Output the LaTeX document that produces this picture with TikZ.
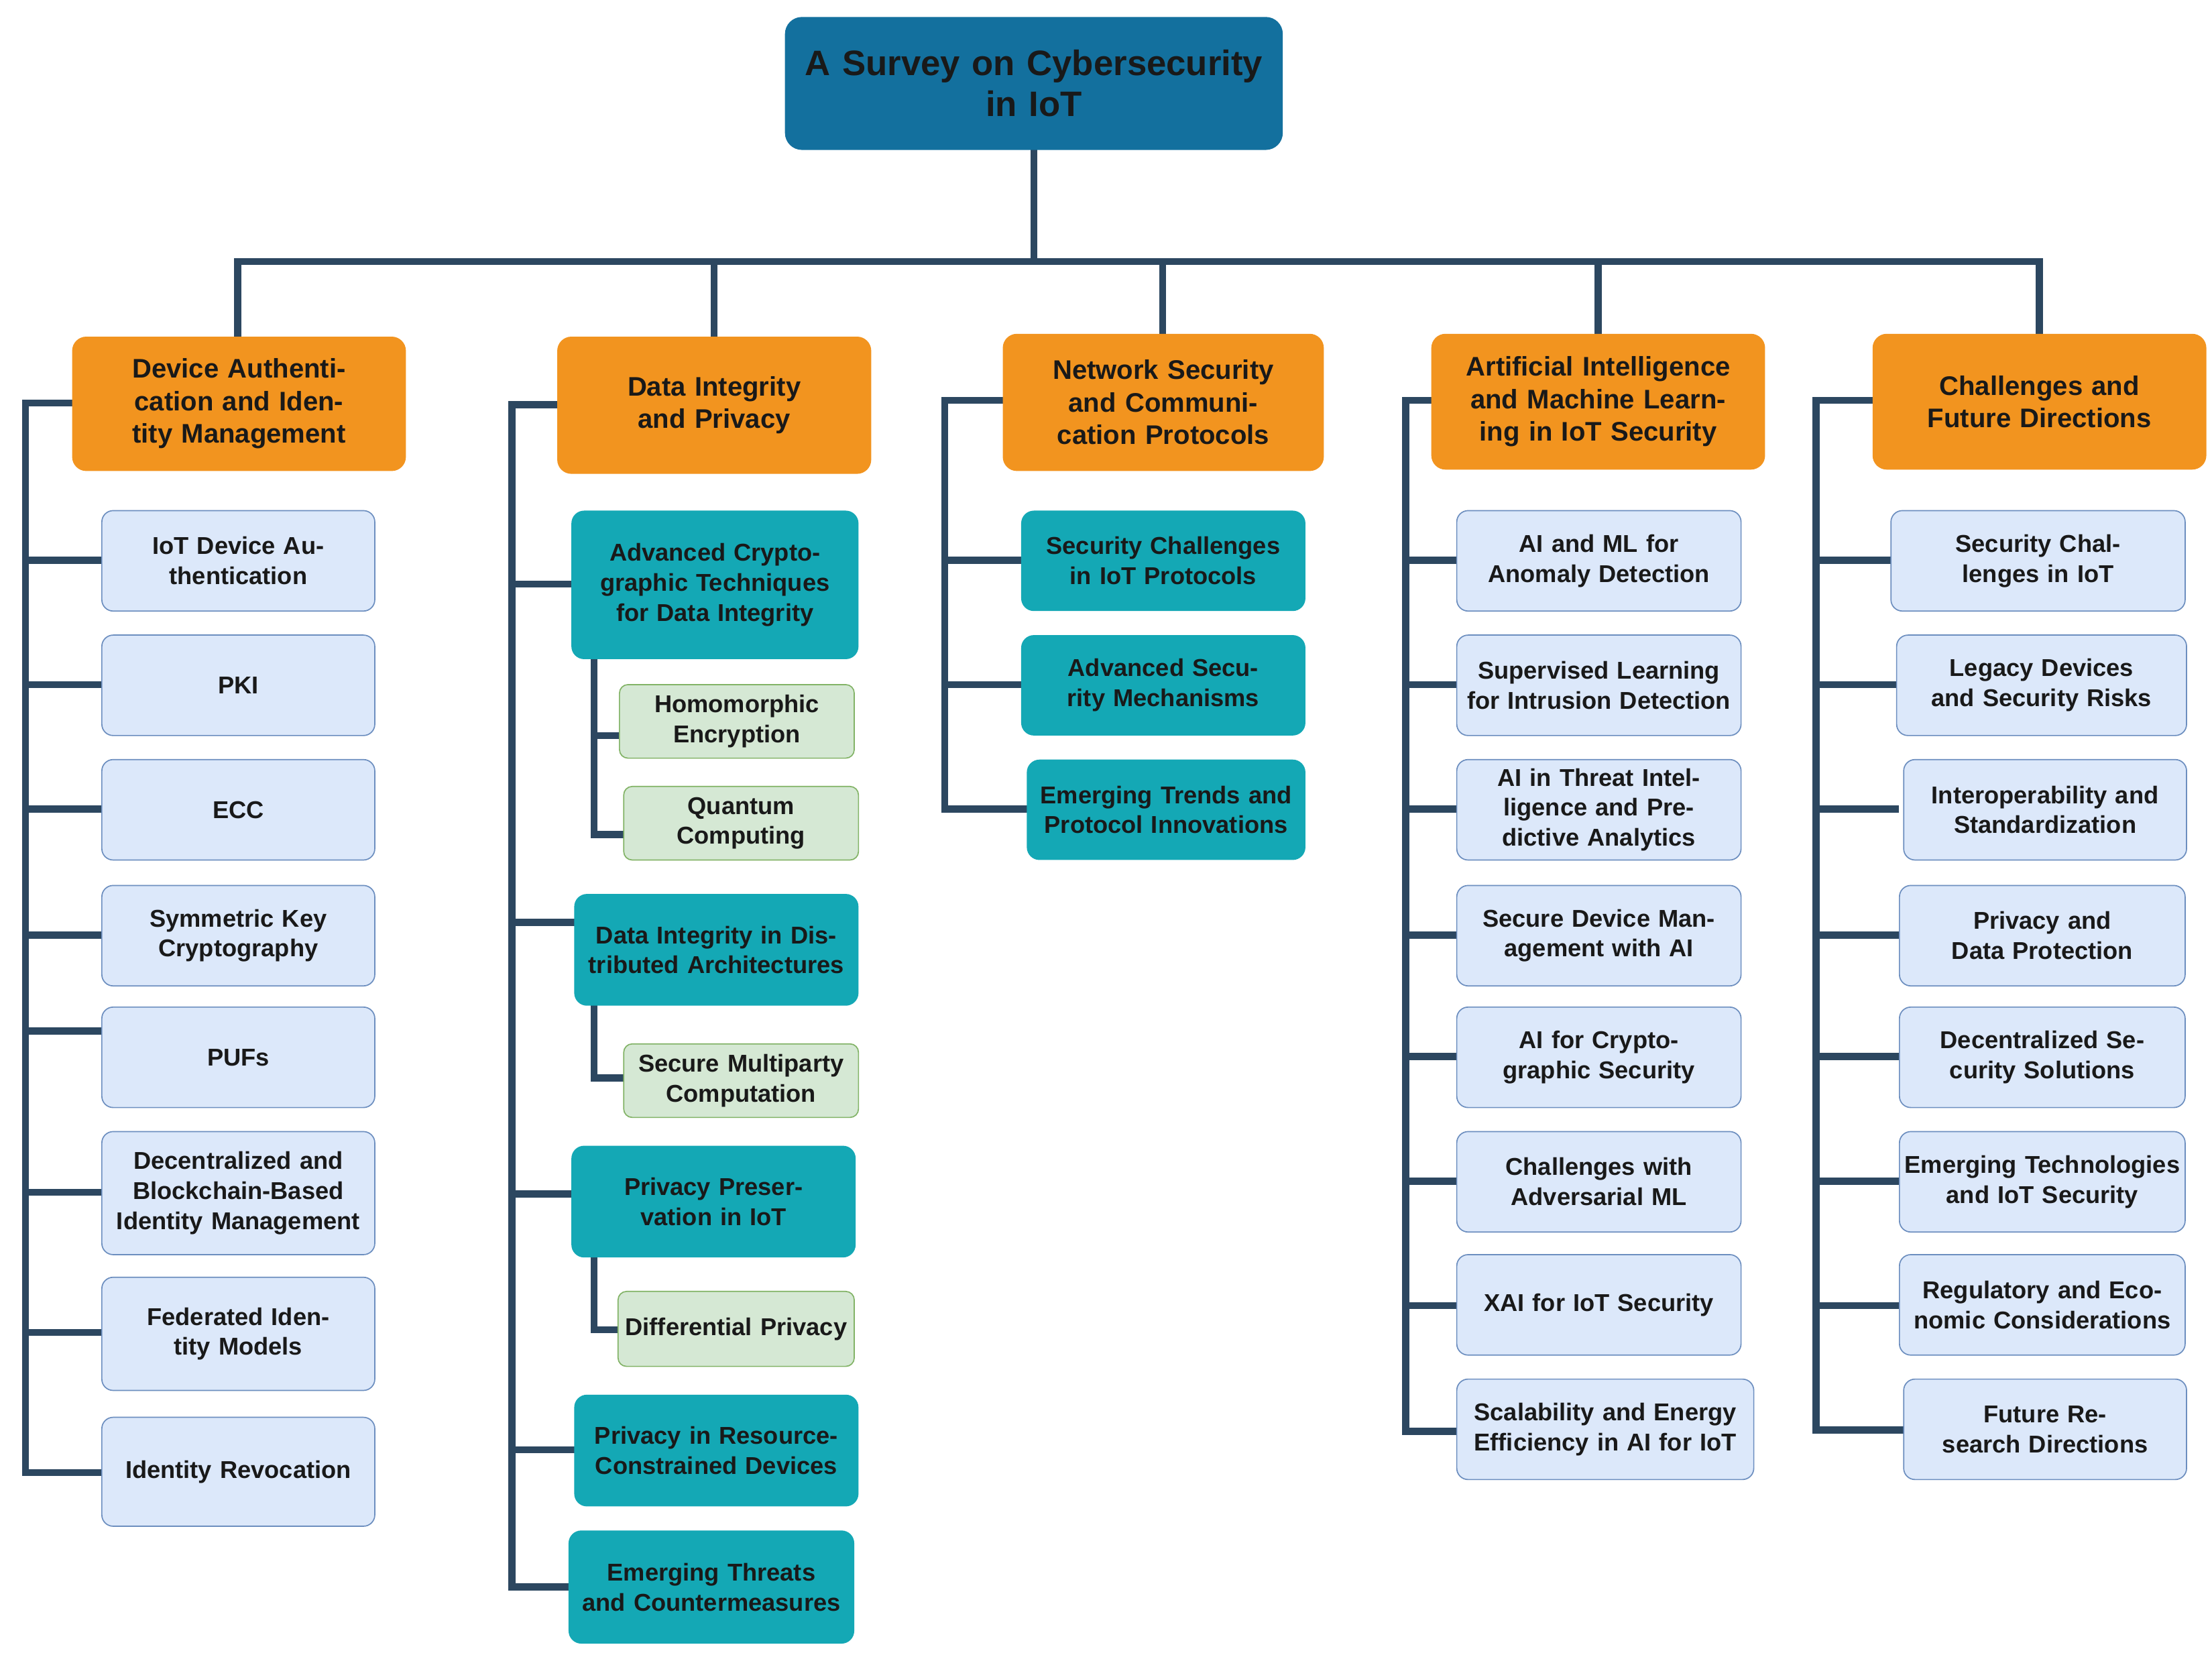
\documentclass[tikz,border=0pt]{standalone}
\usepackage{fontspec}
\setmainfont{Liberation Sans}
\definecolor{ln}{HTML}{2C4760}
\definecolor{rootc}{HTML}{13709E}
\definecolor{catc}{HTML}{F2941F}
\definecolor{tealc}{HTML}{14A8B5}
\definecolor{lbf}{HTML}{DCE8FA}
\definecolor{lbd}{HTML}{6C8EBF}
\definecolor{gf}{HTML}{D5E8D4}
\definecolor{gd}{HTML}{82B366}
\tikzset{
 base/.style={align=center,font=\bfseries,inner sep=1pt,text=black!90},
 root/.style={base,fill=rootc,rounded corners=6pt,font=\bfseries\fontsize{12.5}{14.5}\selectfont},
 cat/.style={base,fill=catc,rounded corners=5pt,font=\bfseries\fontsize{9.5}{11.5}\selectfont},
 teal/.style={base,fill=tealc,rounded corners=4.5pt,font=\bfseries\fontsize{8.6}{10.6}\selectfont},
 leaf/.style={base,fill=lbf,draw=lbd,line width=0.4pt,rounded corners=4pt,font=\bfseries\fontsize{8.6}{10.6}\selectfont},
 grn/.style={base,fill=gf,draw=gd,line width=0.4pt,rounded corners=3pt,font=\bfseries\fontsize{8.6}{10.6}\selectfont},
 conn/.style={draw=ln,line width=2.5pt,line cap=rect}
}
\newcommand{\bx}[7]{\node[#2,minimum width={(#5-#3)*0.5pt},minimum height={(#6-#4)*0.5pt},text width={(#5-#3)*0.5pt-3pt}] (#1) at ({(#3+#5)/2},{(#4+#6)/2}) {#7};}
\begin{document}
\begin{tikzpicture}[x=0.5pt,y=-0.5pt]
\useasboundingbox (0,0) rectangle (1564,1171);
% tree lines first
\coordinate (hb) at (731,185);
\draw[conn] (731,106) -- (hb);
\draw[conn] (168,238) -- (168,185) -- (1442,185) -- (1442,236);
\foreach \x in {505,822,1130} \draw[conn] (\x,185) -- (\x,237);
% column spines
\draw[conn] (51,285) -- (18,285) -- (18,1041) -- (72,1041);
\foreach \y in {396,484,572,661,729,843,942} \draw[conn] (18,\y) -- (72,\y);
\draw[conn] (394,286) -- (362,286) -- (362,1122) -- (402,1122);
\foreach \y in {413,652,844,1025} \draw[conn] (362,\y) -- (405,\y);
\draw[conn] (420,466) -- (420,590) -- (441,590);
\draw[conn] (420,520) -- (438,520);
\draw[conn] (420,711) -- (420,762) -- (441,762);
\draw[conn] (420,889) -- (420,940) -- (437,940);
\draw[conn] (709,283) -- (668,283) -- (668,572) -- (726,572);
\foreach \y in {396,484} \draw[conn] (668,\y) -- (722,\y);
\draw[conn] (1012,283) -- (994,283) -- (994,1012) -- (1030,1012);
\foreach \y in {396,484,572,661,747,835,923} \draw[conn] (994,\y) -- (1030,\y);
\draw[conn] (1324,283) -- (1284,283) -- (1284,1011) -- (1346,1011);
\foreach \y in {396,484,572,661,747,835,923} \draw[conn] (1284,\y) -- (1340,\y);
% nodes
\bx{r}{root}{555}{12}{907}{106}{A Survey on Cybersecurity\\in IoT}
\bx{c1}{cat}{51}{238}{287}{333}{Device Authentication and Identity Management}
\bx{c2}{cat}{394}{238}{616}{335}{Data Integrity and Privacy}
\bx{c3}{cat}{709}{236}{936}{333}{Network Security and Communication Protocols}
\bx{c4}{cat}{1012}{236}{1248}{332}{Artificial Intelligence and Machine Learning in IoT Security}
\bx{c5}{cat}{1324}{236}{1560}{332}{Challenges and Future Directions}
% col1
\bx{a1}{leaf}{72}{361}{265}{432}{IoT Device Authentication}
\bx{a2}{leaf}{72}{449}{265}{520}{PKI}
\bx{a3}{leaf}{72}{537}{265}{608}{ECC}
\bx{a4}{leaf}{72}{626}{265}{697}{Symmetric Key Cryptography}
\bx{a5}{leaf}{72}{712}{265}{783}{PUFs}
\bx{a6}{leaf}{72}{800}{265}{887}{Decentralized and Blockchain-Based Identity Management}
\bx{a7}{leaf}{72}{903}{265}{983}{Federated Identity Models}
\bx{a8}{leaf}{72}{1002}{265}{1079}{Identity Revocation}
% col2
\bx{b1}{teal}{404}{361}{607}{466}{Advanced Cryptographic Techniques for Data Integrity}
\bx{b11}{grn}{438}{484}{604}{536}{Homomorphic Encryption}
\bx{b12}{grn}{441}{556}{607}{608}{Quantum Computing}
\bx{b2}{teal}{406}{632}{607}{711}{Data Integrity in Distributed Architectures}
\bx{b21}{grn}{441}{738}{607}{790}{Secure Multiparty Computation}
\bx{b3}{teal}{404}{810}{605}{889}{Privacy Preservation in IoT}
\bx{b31}{grn}{437}{913}{604}{966}{Differential Privacy}
\bx{b4}{teal}{406}{986}{607}{1065}{Privacy in Resource-Constrained Devices}
\bx{b5}{teal}{402}{1082}{604}{1162}{Emerging Threats and Countermeasures}
% col3
\bx{n1}{teal}{722}{361}{923}{432}{Security Challenges in IoT Protocols}
\bx{n2}{teal}{722}{449}{923}{520}{Advanced Security Mechanisms}
\bx{n3}{teal}{726}{537}{923}{608}{Emerging Trends and Protocol Innovations}
% col4
\bx{d1}{leaf}{1030}{361}{1231}{432}{AI and ML for Anomaly Detection}
\bx{d2}{leaf}{1030}{449}{1231}{520}{Supervised Learning for Intrusion Detection}
\bx{d3}{leaf}{1030}{537}{1231}{608}{AI in Threat Intelligence and Predictive Analytics}
\bx{d4}{leaf}{1030}{626}{1231}{697}{Secure Device Management with AI}
\bx{d5}{leaf}{1030}{712}{1231}{783}{AI for Cryptographic Security}
\bx{d6}{leaf}{1030}{800}{1231}{871}{Challenges with Adversarial ML}
\bx{d7}{leaf}{1030}{887}{1231}{958}{XAI for IoT Security}
\bx{d8}{leaf}{1030}{975}{1240}{1046}{Scalability and Energy Efficiency in AI for IoT}
% col5
\bx{e1}{leaf}{1337}{361}{1545}{432}{Security Challenges in IoT}
\bx{e2}{leaf}{1341}{449}{1546}{520}{Legacy Devices and Security Risks}
\bx{e3}{leaf}{1346}{537}{1546}{608}{Interoperability and Standardization}
\bx{e4}{leaf}{1343}{626}{1545}{697}{Privacy and Data Protection}
\bx{e5}{leaf}{1343}{712}{1545}{783}{Decentralized Security Solutions}
\bx{e6}{leaf}{1343}{800}{1545}{871}{Emerging Technologies\\and IoT Security}
\bx{e7}{leaf}{1343}{887}{1545}{958}{Regulatory and Economic Considerations}
\bx{e8}{leaf}{1346}{975}{1546}{1046}{Future Research Directions}
\end{tikzpicture}
\end{document}
